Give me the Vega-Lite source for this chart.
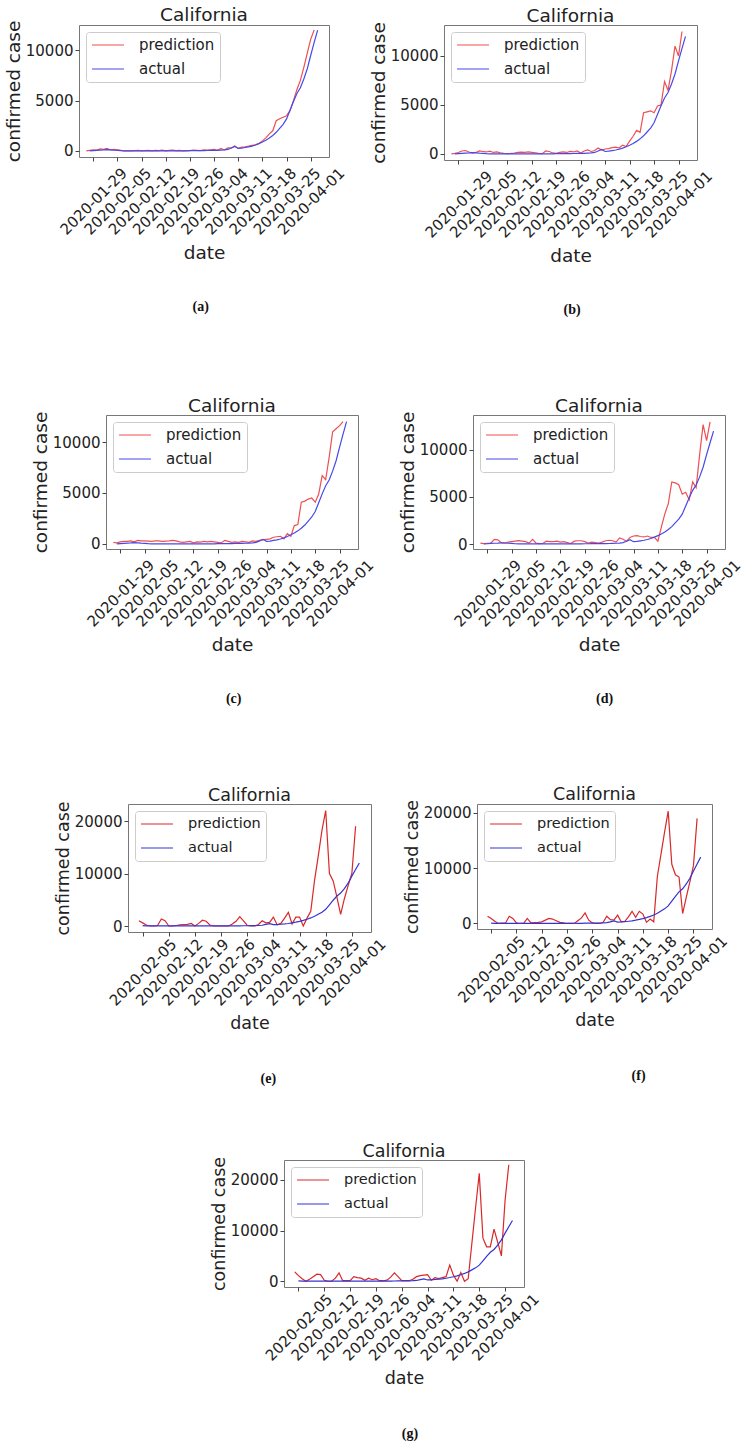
{
"$schema": "https://vega.github.io/schema/vega-lite/v6.json",
"background": "white",
"padding": {"left": 0, "top": 5, "right": 0, "bottom": 0},
"datasets": {
"a": [
{"date":"2020-01-27","prediction":0,"actual":null},{"date":"2020-01-28","prediction":50,"actual":0},{"date":"2020-01-29","prediction":100,"actual":30},{"date":"2020-01-30","prediction":80,"actual":60},{"date":"2020-01-31","prediction":200,"actual":80},
{"date":"2020-02-01","prediction":150,"actual":100},{"date":"2020-02-02","prediction":250,"actual":130},{"date":"2020-02-03","prediction":100,"actual":110},{"date":"2020-02-04","prediction":150,"actual":80},{"date":"2020-02-05","prediction":100,"actual":60},{"date":"2020-02-06","prediction":50,"actual":30},{"date":"2020-02-07","prediction":0,"actual":10},{"date":"2020-02-08","prediction":20,"actual":10},{"date":"2020-02-09","prediction":0,"actual":10},{"date":"2020-02-10","prediction":30,"actual":10},{"date":"2020-02-11","prediction":50,"actual":10},{"date":"2020-02-12","prediction":0,"actual":10},{"date":"2020-02-13","prediction":30,"actual":10},{"date":"2020-02-14","prediction":60,"actual":10},{"date":"2020-02-15","prediction":0,"actual":10},{"date":"2020-02-16","prediction":50,"actual":10},{"date":"2020-02-17","prediction":30,"actual":10},{"date":"2020-02-18","prediction":80,"actual":10},{"date":"2020-02-19","prediction":0,"actual":10},{"date":"2020-02-20","prediction":50,"actual":10},{"date":"2020-02-21","prediction":80,"actual":10},{"date":"2020-02-22","prediction":30,"actual":10},{"date":"2020-02-23","prediction":60,"actual":10},{"date":"2020-02-24","prediction":0,"actual":10},{"date":"2020-02-25","prediction":40,"actual":10},{"date":"2020-02-26","prediction":30,"actual":30},{"date":"2020-02-27","prediction":80,"actual":30},{"date":"2020-02-28","prediction":60,"actual":35},{"date":"2020-02-29","prediction":40,"actual":35},
{"date":"2020-03-01","prediction":100,"actual":35},{"date":"2020-03-02","prediction":80,"actual":45},{"date":"2020-03-03","prediction":120,"actual":50},{"date":"2020-03-04","prediction":150,"actual":55},{"date":"2020-03-05","prediction":60,"actual":65},{"date":"2020-03-06","prediction":250,"actual":80},{"date":"2020-03-07","prediction":100,"actual":100},{"date":"2020-03-08","prediction":300,"actual":150},{"date":"2020-03-09","prediction":300,"actual":300},{"date":"2020-03-10","prediction":500,"actual":450},{"date":"2020-03-11","prediction":250,"actual":250},{"date":"2020-03-12","prediction":380,"actual":280},{"date":"2020-03-13","prediction":420,"actual":340},{"date":"2020-03-14","prediction":480,"actual":400},{"date":"2020-03-15","prediction":550,"actual":480},{"date":"2020-03-16","prediction":600,"actual":590},{"date":"2020-03-17","prediction":750,"actual":730},{"date":"2020-03-18","prediction":1000,"actual":890},{"date":"2020-03-19","prediction":1300,"actual":1070},{"date":"2020-03-20","prediction":1700,"actual":1280},{"date":"2020-03-21","prediction":2000,"actual":1540},{"date":"2020-03-22","prediction":3000,"actual":1850},{"date":"2020-03-23","prediction":3200,"actual":2240},{"date":"2020-03-24","prediction":3350,"actual":2640},{"date":"2020-03-25","prediction":3500,"actual":3180},{"date":"2020-03-26","prediction":4000,"actual":4040},{"date":"2020-03-27","prediction":5000,"actual":4910},{"date":"2020-03-28","prediction":6100,"actual":5710},{"date":"2020-03-29","prediction":7000,"actual":6270},{"date":"2020-03-30","prediction":8300,"actual":7140},{"date":"2020-03-31","prediction":9700,"actual":8160},
{"date":"2020-04-01","prediction":11100,"actual":9500},{"date":"2020-04-02","prediction":12000,"actual":10770},{"date":"2020-04-03","prediction":null,"actual":12000}
],
"b": [
{"date":"2020-01-27","prediction":0,"actual":null},{"date":"2020-01-28","prediction":50,"actual":0},{"date":"2020-01-29","prediction":150,"actual":30},{"date":"2020-01-30","prediction":300,"actual":60},{"date":"2020-01-31","prediction":350,"actual":80},
{"date":"2020-02-01","prediction":200,"actual":100},{"date":"2020-02-02","prediction":100,"actual":130},{"date":"2020-02-03","prediction":150,"actual":110},{"date":"2020-02-04","prediction":300,"actual":80},{"date":"2020-02-05","prediction":250,"actual":60},{"date":"2020-02-06","prediction":200,"actual":30},{"date":"2020-02-07","prediction":280,"actual":10},{"date":"2020-02-08","prediction":150,"actual":10},{"date":"2020-02-09","prediction":200,"actual":10},{"date":"2020-02-10","prediction":100,"actual":10},{"date":"2020-02-11","prediction":50,"actual":10},{"date":"2020-02-12","prediction":30,"actual":10},{"date":"2020-02-13","prediction":50,"actual":10},{"date":"2020-02-14","prediction":80,"actual":10},{"date":"2020-02-15","prediction":150,"actual":10},{"date":"2020-02-16","prediction":180,"actual":10},{"date":"2020-02-17","prediction":150,"actual":10},{"date":"2020-02-18","prediction":200,"actual":10},{"date":"2020-02-19","prediction":150,"actual":10},{"date":"2020-02-20","prediction":100,"actual":10},{"date":"2020-02-21","prediction":50,"actual":10},{"date":"2020-02-22","prediction":20,"actual":10},{"date":"2020-02-23","prediction":300,"actual":10},{"date":"2020-02-24","prediction":250,"actual":10},{"date":"2020-02-25","prediction":100,"actual":10},{"date":"2020-02-26","prediction":50,"actual":30},{"date":"2020-02-27","prediction":150,"actual":30},{"date":"2020-02-28","prediction":200,"actual":35},{"date":"2020-02-29","prediction":150,"actual":35},
{"date":"2020-03-01","prediction":250,"actual":35},{"date":"2020-03-02","prediction":200,"actual":45},{"date":"2020-03-03","prediction":300,"actual":50},{"date":"2020-03-04","prediction":100,"actual":55},{"date":"2020-03-05","prediction":300,"actual":65},{"date":"2020-03-06","prediction":400,"actual":80},{"date":"2020-03-07","prediction":250,"actual":100},{"date":"2020-03-08","prediction":350,"actual":150},{"date":"2020-03-09","prediction":600,"actual":300},{"date":"2020-03-10","prediction":400,"actual":450},{"date":"2020-03-11","prediction":500,"actual":250},{"date":"2020-03-12","prediction":550,"actual":280},{"date":"2020-03-13","prediction":650,"actual":340},{"date":"2020-03-14","prediction":700,"actual":400},{"date":"2020-03-15","prediction":600,"actual":480},{"date":"2020-03-16","prediction":900,"actual":590},{"date":"2020-03-17","prediction":750,"actual":730},{"date":"2020-03-18","prediction":1300,"actual":890},{"date":"2020-03-19","prediction":1800,"actual":1070},{"date":"2020-03-20","prediction":2400,"actual":1280},{"date":"2020-03-21","prediction":2200,"actual":1540},{"date":"2020-03-22","prediction":4200,"actual":1850},{"date":"2020-03-23","prediction":4300,"actual":2240},{"date":"2020-03-24","prediction":4400,"actual":2640},{"date":"2020-03-25","prediction":4200,"actual":3180},{"date":"2020-03-26","prediction":4900,"actual":4040},{"date":"2020-03-27","prediction":5000,"actual":4910},{"date":"2020-03-28","prediction":7400,"actual":5710},{"date":"2020-03-29","prediction":6500,"actual":6270},{"date":"2020-03-30","prediction":8500,"actual":7140},{"date":"2020-03-31","prediction":11000,"actual":8160},
{"date":"2020-04-01","prediction":10000,"actual":9500},{"date":"2020-04-02","prediction":12500,"actual":10770},{"date":"2020-04-03","prediction":null,"actual":12000}
],
"c": [
{"date":"2020-01-27","prediction":150,"actual":null},{"date":"2020-01-28","prediction":100,"actual":0},{"date":"2020-01-29","prediction":200,"actual":30},{"date":"2020-01-30","prediction":250,"actual":60},{"date":"2020-01-31","prediction":250,"actual":80},
{"date":"2020-02-01","prediction":300,"actual":100},{"date":"2020-02-02","prediction":200,"actual":130},{"date":"2020-02-03","prediction":350,"actual":110},{"date":"2020-02-04","prediction":300,"actual":80},{"date":"2020-02-05","prediction":300,"actual":60},{"date":"2020-02-06","prediction":280,"actual":30},{"date":"2020-02-07","prediction":250,"actual":10},{"date":"2020-02-08","prediction":300,"actual":10},{"date":"2020-02-09","prediction":300,"actual":10},{"date":"2020-02-10","prediction":250,"actual":10},{"date":"2020-02-11","prediction":280,"actual":10},{"date":"2020-02-12","prediction":300,"actual":10},{"date":"2020-02-13","prediction":350,"actual":10},{"date":"2020-02-14","prediction":300,"actual":10},{"date":"2020-02-15","prediction":200,"actual":10},{"date":"2020-02-16","prediction":150,"actual":10},{"date":"2020-02-17","prediction":200,"actual":10},{"date":"2020-02-18","prediction":250,"actual":10},{"date":"2020-02-19","prediction":100,"actual":10},{"date":"2020-02-20","prediction":200,"actual":10},{"date":"2020-02-21","prediction":180,"actual":10},{"date":"2020-02-22","prediction":250,"actual":10},{"date":"2020-02-23","prediction":200,"actual":10},{"date":"2020-02-24","prediction":250,"actual":10},{"date":"2020-02-25","prediction":200,"actual":10},{"date":"2020-02-26","prediction":150,"actual":30},{"date":"2020-02-27","prediction":100,"actual":30},{"date":"2020-02-28","prediction":350,"actual":35},{"date":"2020-02-29","prediction":250,"actual":35},
{"date":"2020-03-01","prediction":150,"actual":35},{"date":"2020-03-02","prediction":200,"actual":45},{"date":"2020-03-03","prediction":150,"actual":50},{"date":"2020-03-04","prediction":250,"actual":55},{"date":"2020-03-05","prediction":200,"actual":65},{"date":"2020-03-06","prediction":150,"actual":80},{"date":"2020-03-07","prediction":300,"actual":100},{"date":"2020-03-08","prediction":250,"actual":150},{"date":"2020-03-09","prediction":350,"actual":300},{"date":"2020-03-10","prediction":400,"actual":450},{"date":"2020-03-11","prediction":450,"actual":250},{"date":"2020-03-12","prediction":500,"actual":280},{"date":"2020-03-13","prediction":650,"actual":340},{"date":"2020-03-14","prediction":700,"actual":400},{"date":"2020-03-15","prediction":750,"actual":480},{"date":"2020-03-16","prediction":500,"actual":590},{"date":"2020-03-17","prediction":1000,"actual":730},{"date":"2020-03-18","prediction":750,"actual":890},{"date":"2020-03-19","prediction":1800,"actual":1070},{"date":"2020-03-20","prediction":1900,"actual":1280},{"date":"2020-03-21","prediction":4100,"actual":1540},{"date":"2020-03-22","prediction":4200,"actual":1850},{"date":"2020-03-23","prediction":4400,"actual":2240},{"date":"2020-03-24","prediction":4500,"actual":2640},{"date":"2020-03-25","prediction":4100,"actual":3180},{"date":"2020-03-26","prediction":4900,"actual":4040},{"date":"2020-03-27","prediction":6700,"actual":4910},{"date":"2020-03-28","prediction":6300,"actual":5710},{"date":"2020-03-29","prediction":8500,"actual":6270},{"date":"2020-03-30","prediction":11000,"actual":7140},{"date":"2020-03-31","prediction":11300,"actual":8160},
{"date":"2020-04-01","prediction":11600,"actual":9500},{"date":"2020-04-02","prediction":12000,"actual":10770},{"date":"2020-04-03","prediction":null,"actual":12000}
],
"d": [
{"date":"2020-01-27","prediction":100,"actual":null},{"date":"2020-01-28","prediction":50,"actual":0},{"date":"2020-01-29","prediction":80,"actual":30},{"date":"2020-01-30","prediction":100,"actual":60},{"date":"2020-01-31","prediction":500,"actual":80},
{"date":"2020-02-01","prediction":450,"actual":100},{"date":"2020-02-02","prediction":150,"actual":130},{"date":"2020-02-03","prediction":100,"actual":110},{"date":"2020-02-04","prediction":200,"actual":80},{"date":"2020-02-05","prediction":250,"actual":60},{"date":"2020-02-06","prediction":300,"actual":30},{"date":"2020-02-07","prediction":350,"actual":10},{"date":"2020-02-08","prediction":300,"actual":10},{"date":"2020-02-09","prediction":250,"actual":10},{"date":"2020-02-10","prediction":100,"actual":10},{"date":"2020-02-11","prediction":500,"actual":10},{"date":"2020-02-12","prediction":100,"actual":10},{"date":"2020-02-13","prediction":50,"actual":10},{"date":"2020-02-14","prediction":80,"actual":10},{"date":"2020-02-15","prediction":300,"actual":10},{"date":"2020-02-16","prediction":250,"actual":10},{"date":"2020-02-17","prediction":250,"actual":10},{"date":"2020-02-18","prediction":300,"actual":10},{"date":"2020-02-19","prediction":200,"actual":10},{"date":"2020-02-20","prediction":250,"actual":10},{"date":"2020-02-21","prediction":150,"actual":10},{"date":"2020-02-22","prediction":50,"actual":10},{"date":"2020-02-23","prediction":300,"actual":10},{"date":"2020-02-24","prediction":350,"actual":10},{"date":"2020-02-25","prediction":350,"actual":10},{"date":"2020-02-26","prediction":250,"actual":30},{"date":"2020-02-27","prediction":100,"actual":30},{"date":"2020-02-28","prediction":200,"actual":35},{"date":"2020-02-29","prediction":150,"actual":35},
{"date":"2020-03-01","prediction":100,"actual":35},{"date":"2020-03-02","prediction":200,"actual":45},{"date":"2020-03-03","prediction":350,"actual":50},{"date":"2020-03-04","prediction":400,"actual":55},{"date":"2020-03-05","prediction":350,"actual":65},{"date":"2020-03-06","prediction":200,"actual":80},{"date":"2020-03-07","prediction":650,"actual":100},{"date":"2020-03-08","prediction":500,"actual":150},{"date":"2020-03-09","prediction":300,"actual":300},{"date":"2020-03-10","prediction":700,"actual":450},{"date":"2020-03-11","prediction":850,"actual":250},{"date":"2020-03-12","prediction":900,"actual":280},{"date":"2020-03-13","prediction":800,"actual":340},{"date":"2020-03-14","prediction":750,"actual":400},{"date":"2020-03-15","prediction":850,"actual":480},{"date":"2020-03-16","prediction":700,"actual":590},{"date":"2020-03-17","prediction":700,"actual":730},{"date":"2020-03-18","prediction":300,"actual":890},{"date":"2020-03-19","prediction":1800,"actual":1070},{"date":"2020-03-20","prediction":3200,"actual":1280},{"date":"2020-03-21","prediction":4300,"actual":1540},{"date":"2020-03-22","prediction":6600,"actual":1850},{"date":"2020-03-23","prediction":6500,"actual":2240},{"date":"2020-03-24","prediction":6300,"actual":2640},{"date":"2020-03-25","prediction":5300,"actual":3180},{"date":"2020-03-26","prediction":5500,"actual":4040},{"date":"2020-03-27","prediction":4700,"actual":4910},{"date":"2020-03-28","prediction":6600,"actual":5710},{"date":"2020-03-29","prediction":6000,"actual":6270},{"date":"2020-03-30","prediction":9500,"actual":7140},{"date":"2020-03-31","prediction":12700,"actual":8160},
{"date":"2020-04-01","prediction":11000,"actual":9500},{"date":"2020-04-02","prediction":13000,"actual":10770},{"date":"2020-04-03","prediction":null,"actual":12000}
],
"e": [
{"date":"2020-02-04","prediction":1000,"actual":null},{"date":"2020-02-05","prediction":600,"actual":60},{"date":"2020-02-06","prediction":200,"actual":30},{"date":"2020-02-07","prediction":0,"actual":10},{"date":"2020-02-08","prediction":0,"actual":10},{"date":"2020-02-09","prediction":100,"actual":10},{"date":"2020-02-10","prediction":1350,"actual":10},{"date":"2020-02-11","prediction":1000,"actual":10},{"date":"2020-02-12","prediction":0,"actual":10},{"date":"2020-02-13","prediction":0,"actual":10},{"date":"2020-02-14","prediction":100,"actual":10},{"date":"2020-02-15","prediction":200,"actual":10},{"date":"2020-02-16","prediction":250,"actual":10},{"date":"2020-02-17","prediction":300,"actual":10},{"date":"2020-02-18","prediction":500,"actual":10},{"date":"2020-02-19","prediction":0,"actual":10},{"date":"2020-02-20","prediction":500,"actual":10},{"date":"2020-02-21","prediction":1100,"actual":10},{"date":"2020-02-22","prediction":900,"actual":10},{"date":"2020-02-23","prediction":200,"actual":10},{"date":"2020-02-24","prediction":0,"actual":10},{"date":"2020-02-25","prediction":0,"actual":10},{"date":"2020-02-26","prediction":0,"actual":30},{"date":"2020-02-27","prediction":0,"actual":30},{"date":"2020-02-28","prediction":0,"actual":35},{"date":"2020-02-29","prediction":400,"actual":35},
{"date":"2020-03-01","prediction":900,"actual":35},{"date":"2020-03-02","prediction":1800,"actual":45},{"date":"2020-03-03","prediction":1000,"actual":50},{"date":"2020-03-04","prediction":100,"actual":55},{"date":"2020-03-05","prediction":0,"actual":65},{"date":"2020-03-06","prediction":0,"actual":80},{"date":"2020-03-07","prediction":300,"actual":100},{"date":"2020-03-08","prediction":1000,"actual":150},{"date":"2020-03-09","prediction":600,"actual":300},{"date":"2020-03-10","prediction":700,"actual":450},{"date":"2020-03-11","prediction":1700,"actual":250},{"date":"2020-03-12","prediction":250,"actual":280},{"date":"2020-03-13","prediction":500,"actual":340},{"date":"2020-03-14","prediction":1500,"actual":400},{"date":"2020-03-15","prediction":2600,"actual":480},{"date":"2020-03-16","prediction":400,"actual":590},{"date":"2020-03-17","prediction":1700,"actual":730},{"date":"2020-03-18","prediction":1700,"actual":890},{"date":"2020-03-19","prediction":0,"actual":1070},{"date":"2020-03-20","prediction":1500,"actual":1280},{"date":"2020-03-21","prediction":2800,"actual":1540},{"date":"2020-03-22","prediction":8600,"actual":1850},{"date":"2020-03-23","prediction":13300,"actual":2240},{"date":"2020-03-24","prediction":18200,"actual":2640},{"date":"2020-03-25","prediction":22000,"actual":3180},{"date":"2020-03-26","prediction":10000,"actual":4040},{"date":"2020-03-27","prediction":8600,"actual":4910},{"date":"2020-03-28","prediction":5500,"actual":5710},{"date":"2020-03-29","prediction":2200,"actual":6270},{"date":"2020-03-30","prediction":5200,"actual":7140},{"date":"2020-03-31","prediction":7700,"actual":8160},
{"date":"2020-04-01","prediction":10000,"actual":9500},{"date":"2020-04-02","prediction":19000,"actual":10770},{"date":"2020-04-03","prediction":null,"actual":12000}
],
"f": [
{"date":"2020-02-04","prediction":1300,"actual":null},{"date":"2020-02-05","prediction":900,"actual":60},{"date":"2020-02-06","prediction":400,"actual":30},{"date":"2020-02-07","prediction":0,"actual":10},{"date":"2020-02-08","prediction":50,"actual":10},{"date":"2020-02-09","prediction":100,"actual":10},{"date":"2020-02-10","prediction":1300,"actual":10},{"date":"2020-02-11","prediction":900,"actual":10},{"date":"2020-02-12","prediction":100,"actual":10},{"date":"2020-02-13","prediction":0,"actual":10},{"date":"2020-02-14","prediction":0,"actual":10},{"date":"2020-02-15","prediction":900,"actual":10},{"date":"2020-02-16","prediction":100,"actual":10},{"date":"2020-02-17","prediction":150,"actual":10},{"date":"2020-02-18","prediction":200,"actual":10},{"date":"2020-02-19","prediction":300,"actual":10},{"date":"2020-02-20","prediction":600,"actual":10},{"date":"2020-02-21","prediction":900,"actual":10},{"date":"2020-02-22","prediction":800,"actual":10},{"date":"2020-02-23","prediction":500,"actual":10},{"date":"2020-02-24","prediction":200,"actual":10},{"date":"2020-02-25","prediction":100,"actual":10},{"date":"2020-02-26","prediction":0,"actual":30},{"date":"2020-02-27","prediction":0,"actual":30},{"date":"2020-02-28","prediction":0,"actual":35},{"date":"2020-02-29","prediction":500,"actual":35},
{"date":"2020-03-01","prediction":1000,"actual":35},{"date":"2020-03-02","prediction":1900,"actual":45},{"date":"2020-03-03","prediction":600,"actual":50},{"date":"2020-03-04","prediction":100,"actual":55},{"date":"2020-03-05","prediction":0,"actual":65},{"date":"2020-03-06","prediction":0,"actual":80},{"date":"2020-03-07","prediction":200,"actual":100},{"date":"2020-03-08","prediction":1300,"actual":150},{"date":"2020-03-09","prediction":700,"actual":300},{"date":"2020-03-10","prediction":600,"actual":450},{"date":"2020-03-11","prediction":1500,"actual":250},{"date":"2020-03-12","prediction":300,"actual":280},{"date":"2020-03-13","prediction":400,"actual":340},{"date":"2020-03-14","prediction":1200,"actual":400},{"date":"2020-03-15","prediction":2200,"actual":480},{"date":"2020-03-16","prediction":1100,"actual":590},{"date":"2020-03-17","prediction":2200,"actual":730},{"date":"2020-03-18","prediction":1700,"actual":890},{"date":"2020-03-19","prediction":200,"actual":1070},{"date":"2020-03-20","prediction":800,"actual":1280},{"date":"2020-03-21","prediction":300,"actual":1540},{"date":"2020-03-22","prediction":8500,"actual":1850},{"date":"2020-03-23","prediction":12500,"actual":2240},{"date":"2020-03-24","prediction":16500,"actual":2640},{"date":"2020-03-25","prediction":20300,"actual":3180},{"date":"2020-03-26","prediction":10700,"actual":4040},{"date":"2020-03-27","prediction":8800,"actual":4910},{"date":"2020-03-28","prediction":8400,"actual":5710},{"date":"2020-03-29","prediction":1800,"actual":6270},{"date":"2020-03-30","prediction":4700,"actual":7140},{"date":"2020-03-31","prediction":7500,"actual":8160},
{"date":"2020-04-01","prediction":10500,"actual":9500},{"date":"2020-04-02","prediction":19000,"actual":10770},{"date":"2020-04-03","prediction":null,"actual":12000}
],
"g": [
{"date":"2020-02-04","prediction":1850,"actual":null},{"date":"2020-02-05","prediction":1100,"actual":60},{"date":"2020-02-06","prediction":500,"actual":30},{"date":"2020-02-07","prediction":0,"actual":10},{"date":"2020-02-08","prediction":400,"actual":10},{"date":"2020-02-09","prediction":900,"actual":10},{"date":"2020-02-10","prediction":1400,"actual":10},{"date":"2020-02-11","prediction":1300,"actual":10},{"date":"2020-02-12","prediction":200,"actual":10},{"date":"2020-02-13","prediction":0,"actual":10},{"date":"2020-02-14","prediction":0,"actual":10},{"date":"2020-02-15","prediction":600,"actual":10},{"date":"2020-02-16","prediction":1650,"actual":10},{"date":"2020-02-17","prediction":100,"actual":10},{"date":"2020-02-18","prediction":100,"actual":10},{"date":"2020-02-19","prediction":100,"actual":10},{"date":"2020-02-20","prediction":900,"actual":10},{"date":"2020-02-21","prediction":700,"actual":10},{"date":"2020-02-22","prediction":600,"actual":10},{"date":"2020-02-23","prediction":200,"actual":10},{"date":"2020-02-24","prediction":600,"actual":10},{"date":"2020-02-25","prediction":300,"actual":10},{"date":"2020-02-26","prediction":500,"actual":30},{"date":"2020-02-27","prediction":100,"actual":30},{"date":"2020-02-28","prediction":100,"actual":35},{"date":"2020-02-29","prediction":200,"actual":35},
{"date":"2020-03-01","prediction":800,"actual":35},{"date":"2020-03-02","prediction":1650,"actual":45},{"date":"2020-03-03","prediction":900,"actual":50},{"date":"2020-03-04","prediction":100,"actual":55},{"date":"2020-03-05","prediction":100,"actual":65},{"date":"2020-03-06","prediction":100,"actual":80},{"date":"2020-03-07","prediction":400,"actual":100},{"date":"2020-03-08","prediction":900,"actual":150},{"date":"2020-03-09","prediction":1100,"actual":300},{"date":"2020-03-10","prediction":1200,"actual":450},{"date":"2020-03-11","prediction":1300,"actual":250},{"date":"2020-03-12","prediction":200,"actual":280},{"date":"2020-03-13","prediction":700,"actual":340},{"date":"2020-03-14","prediction":500,"actual":400},{"date":"2020-03-15","prediction":700,"actual":480},{"date":"2020-03-16","prediction":900,"actual":590},{"date":"2020-03-17","prediction":3200,"actual":730},{"date":"2020-03-18","prediction":1200,"actual":890},{"date":"2020-03-19","prediction":0,"actual":1070},{"date":"2020-03-20","prediction":1700,"actual":1280},{"date":"2020-03-21","prediction":0,"actual":1540},{"date":"2020-03-22","prediction":500,"actual":1850},{"date":"2020-03-23","prediction":7500,"actual":2240},{"date":"2020-03-24","prediction":14500,"actual":2640},{"date":"2020-03-25","prediction":21300,"actual":3180},{"date":"2020-03-26","prediction":8500,"actual":4040},{"date":"2020-03-27","prediction":6800,"actual":4910},{"date":"2020-03-28","prediction":6800,"actual":5710},{"date":"2020-03-29","prediction":10300,"actual":6270},{"date":"2020-03-30","prediction":7700,"actual":7140},{"date":"2020-03-31","prediction":5000,"actual":8160},
{"date":"2020-04-01","prediction":16000,"actual":9500},{"date":"2020-04-02","prediction":23000,"actual":10770},{"date":"2020-04-03","prediction":null,"actual":12000}
]
},
"resolve": {"scale": {"color": "independent"}, "legend": {"color": "independent"}},
"spacing": 55,
"vconcat": [
{"resolve": {"scale": {"color": "independent"}, "legend": {"color": "independent"}},
 "spacing": 78,
 "vconcat": [
 {"resolve": {"scale": {"color": "independent"}, "legend": {"color": "independent"}},
  "spacing": 0,
  "hconcat": [
  {"width": 3, "height": 1, "view": {"stroke": null}, "data": {"values": []}, "mark": "point", "encoding": {}},
  {"resolve": {"scale": {"color": "independent"}, "legend": {"color": "independent"}},
   "spacing": 20,
   "hconcat": [
   {"title": {"text": "(a)", "orient": "bottom", "anchor": "middle", "offset": 38, "dx": 25, "font": "Liberation Serif", "fontSize": 14, "fontWeight": "bold", "color": "#111111"},
    "resolve": {"scale": {"color": "independent"}, "legend": {"color": "independent"}},
    "vconcat": [{
     "title": {"text": "California", "frame": "group"},
     "width": 250, "height": 132,
     "data": {"name": "a"},
     "transform": [{"fold": ["prediction", "actual"], "as": ["series", "cases"]}, {"filter": "datum.cases != null"}],
     "mark": {"type": "line", "strokeWidth": 1.2},
     "encoding": {
      "x": {"field": "date", "type": "temporal", "title": "date", "scale": {"type": "utc", "nice": false, "domain": [1579899600000, 1586156400000]}, "axis": {"values": [1580256000000, 1580860800000, 1581465600000, 1582070400000, 1582675200000, 1583280000000, 1583884800000, 1584489600000, 1585094400000, 1585699200000], "format": "%Y-%m-%d"}},
      "y": {"field": "cases", "type": "quantitative", "title": "confirmed case", "scale": {"domain": [-600, 12500], "nice": false, "zero": false}, "axis": {"values": [0, 5000, 10000], "format": "d"}},
      "color": {"field": "series", "type": "nominal", "scale": {"domain": ["prediction", "actual"], "range": ["#ee5050", "#4848e8"]}, "legend": {"title": null}}
     }
    }]
   },
   {"title": {"text": "(b)", "orient": "bottom", "anchor": "middle", "offset": 38, "dx": 30, "font": "Liberation Serif", "fontSize": 14, "fontWeight": "bold", "color": "#111111"},
    "resolve": {"scale": {"color": "independent"}, "legend": {"color": "independent"}},
    "vconcat": [{
     "title": {"text": "California", "frame": "group"},
     "width": 253, "height": 135,
     "data": {"name": "b"},
     "transform": [{"fold": ["prediction", "actual"], "as": ["series", "cases"]}, {"filter": "datum.cases != null"}],
     "mark": {"type": "line", "strokeWidth": 1.2},
     "encoding": {
      "x": {"field": "date", "type": "temporal", "title": "date", "scale": {"type": "utc", "nice": false, "domain": [1579899600000, 1586156400000]}, "axis": {"values": [1580256000000, 1580860800000, 1581465600000, 1582070400000, 1582675200000, 1583280000000, 1583884800000, 1584489600000, 1585094400000, 1585699200000], "format": "%Y-%m-%d"}},
      "y": {"field": "cases", "type": "quantitative", "title": "confirmed case", "scale": {"domain": [-620, 13160], "nice": false, "zero": false}, "axis": {"values": [0, 5000, 10000], "format": "d"}},
      "color": {"field": "series", "type": "nominal", "scale": {"domain": ["prediction", "actual"], "range": ["#ee5050", "#4848e8"]}, "legend": {"title": null}}
     }
    }]
   }
   ]}
  ]},
 {"resolve": {"scale": {"color": "independent"}, "legend": {"color": "independent"}},
  "spacing": 0,
  "hconcat": [
  {"width": 30, "height": 1, "view": {"stroke": null}, "data": {"values": []}, "mark": "point", "encoding": {}},
  {"resolve": {"scale": {"color": "independent"}, "legend": {"color": "independent"}},
   "spacing": 20,
   "hconcat": [
   {"title": {"text": "(c)", "orient": "bottom", "anchor": "middle", "offset": 38, "dx": 30, "font": "Liberation Serif", "fontSize": 14, "fontWeight": "bold", "color": "#111111"},
    "resolve": {"scale": {"color": "independent"}, "legend": {"color": "independent"}},
    "vconcat": [{
     "title": {"text": "California", "frame": "group"},
     "width": 252, "height": 134,
     "data": {"name": "c"},
     "transform": [{"fold": ["prediction", "actual"], "as": ["series", "cases"]}, {"filter": "datum.cases != null"}],
     "mark": {"type": "line", "strokeWidth": 1.2},
     "encoding": {
      "x": {"field": "date", "type": "temporal", "title": "date", "scale": {"type": "utc", "nice": false, "domain": [1579899600000, 1586156400000]}, "axis": {"values": [1580256000000, 1580860800000, 1581465600000, 1582070400000, 1582675200000, 1583280000000, 1583884800000, 1584489600000, 1585094400000, 1585699200000], "format": "%Y-%m-%d"}},
      "y": {"field": "cases", "type": "quantitative", "title": "confirmed case", "scale": {"domain": [-500, 12650], "nice": false, "zero": false}, "axis": {"values": [0, 5000, 10000], "format": "d"}},
      "color": {"field": "series", "type": "nominal", "scale": {"domain": ["prediction", "actual"], "range": ["#ee5050", "#4848e8"]}, "legend": {"title": null}}
     }
    }]
   },
   {"title": {"text": "(d)", "orient": "bottom", "anchor": "middle", "offset": 38, "dx": 34, "font": "Liberation Serif", "fontSize": 14, "fontWeight": "bold", "color": "#111111"},
    "resolve": {"scale": {"color": "independent"}, "legend": {"color": "independent"}},
    "vconcat": [{
     "title": {"text": "California", "frame": "group"},
     "width": 252, "height": 134,
     "data": {"name": "d"},
     "transform": [{"fold": ["prediction", "actual"], "as": ["series", "cases"]}, {"filter": "datum.cases != null"}],
     "mark": {"type": "line", "strokeWidth": 1.2},
     "encoding": {
      "x": {"field": "date", "type": "temporal", "title": "date", "scale": {"type": "utc", "nice": false, "domain": [1579899600000, 1586156400000]}, "axis": {"values": [1580256000000, 1580860800000, 1581465600000, 1582070400000, 1582675200000, 1583280000000, 1583884800000, 1584489600000, 1585094400000, 1585699200000], "format": "%Y-%m-%d"}},
      "y": {"field": "cases", "type": "quantitative", "title": "confirmed case", "scale": {"domain": [-530, 13720], "nice": false, "zero": false}, "axis": {"values": [0, 5000, 10000], "format": "d"}},
      "color": {"field": "series", "type": "nominal", "scale": {"domain": ["prediction", "actual"], "range": ["#ee5050", "#4848e8"]}, "legend": {"title": null}}
     }
    }]
   }
   ]}
  ]},
 {"resolve": {"scale": {"color": "independent"}, "legend": {"color": "independent"}},
  "spacing": 0,
  "hconcat": [
  {"width": 53, "height": 1, "view": {"stroke": null}, "data": {"values": []}, "mark": "point", "encoding": {}},
  {"resolve": {"scale": {"color": "independent"}, "legend": {"color": "independent"}},
   "spacing": 13,
   "hconcat": [
   {"title": {"text": "(e)", "orient": "bottom", "anchor": "middle", "offset": 40, "dx": 47, "font": "Liberation Serif", "fontSize": 14, "fontWeight": "bold", "color": "#111111"},
    "resolve": {"scale": {"color": "independent"}, "legend": {"color": "independent"}},
    "vconcat": [{
     "title": {"text": "California", "frame": "group", "fontSize": 17.5},
     "width": 243, "height": 128,
     "data": {"name": "e"},
     "transform": [{"fold": ["prediction", "actual"], "as": ["series", "cases"]}, {"filter": "datum.cases != null"}],
     "mark": {"type": "line", "strokeWidth": 1.2},
     "encoding": {
      "x": {"field": "date", "type": "temporal", "title": "date", "scale": {"type": "utc", "nice": false, "domain": [1580522400000, 1586142000000]}, "axis": {"values": [1580860800000, 1581465600000, 1582070400000, 1582675200000, 1583280000000, 1583884800000, 1584489600000, 1585094400000, 1585699200000], "format": "%Y-%m-%d", "labelPadding": 36, "titleFontSize": 17.5}},
      "y": {"field": "cases", "type": "quantitative", "title": "confirmed case", "scale": {"domain": [-1140, 23240], "nice": false, "zero": false}, "axis": {"values": [0, 10000, 20000], "format": "d", "titleFontSize": 17.5}},
      "color": {"field": "series", "type": "nominal", "scale": {"domain": ["prediction", "actual"], "range": ["#d92828", "#3434d4"]}, "legend": {"title": null, "labelFontSize": 14.5}}
     }
    }]
   },
   {"title": {"text": "(f)", "orient": "bottom", "anchor": "middle", "offset": 40, "dx": 72, "font": "Liberation Serif", "fontSize": 14, "fontWeight": "bold", "color": "#111111"},
    "resolve": {"scale": {"color": "independent"}, "legend": {"color": "independent"}},
    "vconcat": [{
     "title": {"text": "California", "frame": "group", "fontSize": 17.5},
     "width": 235, "height": 125,
     "data": {"name": "f"},
     "transform": [{"fold": ["prediction", "actual"], "as": ["series", "cases"]}, {"filter": "datum.cases != null"}],
     "mark": {"type": "line", "strokeWidth": 1.2},
     "encoding": {
      "x": {"field": "date", "type": "temporal", "title": "date", "scale": {"type": "utc", "nice": false, "domain": [1580522400000, 1586142000000]}, "axis": {"values": [1580860800000, 1581465600000, 1582070400000, 1582675200000, 1583280000000, 1583884800000, 1584489600000, 1585094400000, 1585699200000], "format": "%Y-%m-%d", "labelPadding": 36, "titleFontSize": 17.5}},
      "y": {"field": "cases", "type": "quantitative", "title": "confirmed case", "scale": {"domain": [-1000, 21600], "nice": false, "zero": false}, "axis": {"values": [0, 10000, 20000], "format": "d", "titleFontSize": 17.5}},
      "color": {"field": "series", "type": "nominal", "scale": {"domain": ["prediction", "actual"], "range": ["#d92828", "#3434d4"]}, "legend": {"title": null, "labelFontSize": 14.5}}
     }
    }]
   }
   ]}
  ]}
 ]},
{"resolve": {"scale": {"color": "independent"}, "legend": {"color": "independent"}},
 "spacing": 0,
 "hconcat": [
 {"width": 209, "height": 1, "view": {"stroke": null}, "data": {"values": []}, "mark": "point", "encoding": {}},
 {"title": {"text": "(g)", "orient": "bottom", "anchor": "middle", "offset": 40, "dx": 34, "font": "Liberation Serif", "fontSize": 14, "fontWeight": "bold", "color": "#111111"},
  "resolve": {"scale": {"color": "independent"}, "legend": {"color": "independent"}},
  "vconcat": [{
   "title": {"text": "California", "frame": "group", "fontSize": 17.5},
   "width": 240, "height": 127,
   "data": {"name": "g"},
   "transform": [{"fold": ["prediction", "actual"], "as": ["series", "cases"]}, {"filter": "datum.cases != null"}],
   "mark": {"type": "line", "strokeWidth": 1.2},
   "encoding": {
    "x": {"field": "date", "type": "temporal", "title": "date", "scale": {"type": "utc", "nice": false, "domain": [1580522400000, 1586142000000]}, "axis": {"values": [1580860800000, 1581465600000, 1582070400000, 1582675200000, 1583280000000, 1583884800000, 1584489600000, 1585094400000, 1585699200000], "format": "%Y-%m-%d", "labelPadding": 36, "titleFontSize": 17.5}},
    "y": {"field": "cases", "type": "quantitative", "title": "confirmed case", "scale": {"domain": [-1140, 23940], "nice": false, "zero": false}, "axis": {"values": [0, 10000, 20000], "format": "d", "titleFontSize": 17.5}},
    "color": {"field": "series", "type": "nominal", "scale": {"domain": ["prediction", "actual"], "range": ["#d92828", "#3434d4"]}, "legend": {"title": null, "labelFontSize": 14.5}}
   }
  }]
 }
 ]}
],
"config": {
 "font": "DejaVu Sans",
 "view": {"stroke": "#777777", "strokeWidth": 1},
 "axis": {"grid": false, "domain": false, "tickColor": "#444444", "tickSize": 4, "tickWidth": 1, "labelFont": "DejaVu Sans", "labelFontSize": 15, "labelColor": "#222222", "titleFont": "DejaVu Sans", "titleFontSize": 18.5, "titleFontWeight": "normal", "titleColor": "#222222"},
 "axisX": {"labelAngle": -45, "labelAlign": "center", "labelBaseline": "middle", "labelPadding": 40, "labelOverlap": false, "labelBound": false, "labelFlush": false, "titlePadding": 6},
 "axisY": {"labelPadding": 2, "titlePadding": 2},
 "legend": {"orient": "top-left", "offset": 7, "padding": 5, "strokeColor": "#cccccc", "fillColor": "rgba(255,255,255,0.85)", "cornerRadius": 3, "symbolType": "stroke", "symbolSize": 1024, "symbolStrokeWidth": 1.2, "labelFont": "DejaVu Sans", "labelFontSize": 15, "labelColor": "#222222", "labelOffset": 14, "clipHeight": 16, "rowPadding": 8, "labelLimit": 200},
 "title": {"font": "DejaVu Sans", "fontSize": 18.5, "fontWeight": "normal", "color": "#222222", "offset": -4, "anchor": "middle"}
}
}
